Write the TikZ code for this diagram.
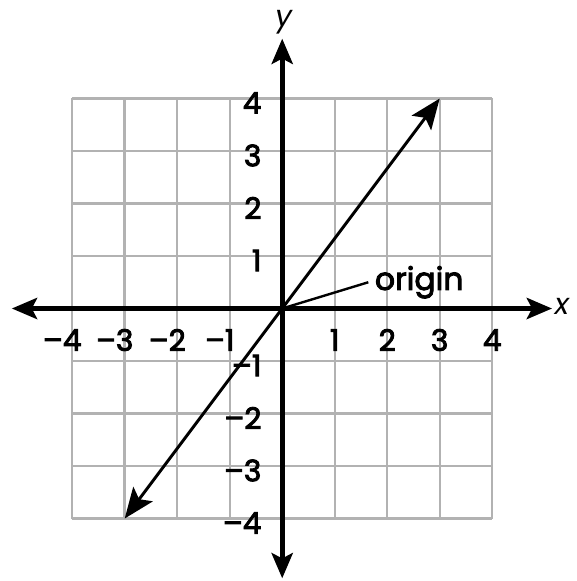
\documentclass[tikz,border=0pt]{standalone}
\usepackage{fontspec}
\setmainfont{Poppins}
\newfontfamily\labelfont[FakeBold=3]{Poppins}
\usetikzlibrary{arrows.meta}
\tikzset{
  gridline/.style={draw=black!30,line width=1.3pt},
  axisline/.style={draw=black,line width=2.7pt,
    {Stealth[length=0.48cm,width=0.4cm,inset=0.1cm]}-{Stealth[length=0.48cm,width=0.4cm,inset=0.1cm]}},
  dataline/.style={draw=black,line width=1.6pt,
    {Stealth[length=0.58cm,width=0.46cm,inset=0.12cm]}-{Stealth[length=0.58cm,width=0.46cm,inset=0.12cm]}},
  ticklabel/.style={font=\labelfont\fontsize{16}{18}\selectfont,inner sep=0pt},
  axislabel/.style={font=\fontsize{16}{18}\selectfont\itshape,inner sep=0pt},
  notelabel/.style={font=\labelfont\fontsize{17}{20}\selectfont,anchor=west,inner sep=0.12cm},
  pointer/.style={draw=black,line width=1.3pt},
}

\begin{document}
\begin{tikzpicture}
  \useasboundingbox (-5.375,-5.19) rectangle (5.596,5.876);
  \draw[gridline] (-4,-4) grid (4,4);
  \coordinate (O)  at (0,0);
  \coordinate (xl) at (-5.15,0);
  \coordinate (xr) at (5.14,0);
  \coordinate (yb) at (0,-5.14);
  \coordinate (yt) at (0,5.14);
  \coordinate (lo) at (-3,-4);
  \coordinate (hi) at (3,4);
  \draw[axisline] (xl) -- (xr);
  \draw[axisline] (yb) -- (yt);
  \draw[dataline] (lo) -- (hi);
  \node[axislabel] (xlab) at (5.33,0.04) {x};
  \node[axislabel] (ylab) at (0.03,5.45) {y};
  \foreach \n in {1,2,3,4} {
    \node[ticklabel] (xp\n) at (\n,-0.6) {\n};
    \node[ticklabel] (xn\n) at (-\n,-0.6) {\llap{–}\n};
    \node[ticklabel,anchor=east] (yp\n) at (-0.39,\n-0.085) {\n};
    \node[ticklabel,anchor=east] (yn\n) at (-0.39,-\n-0.085) {–\n};
  }
  \node[notelabel] (orig) at (1.64,0.5) {origin};
  \draw[pointer] (O) -- (orig.west);
\end{tikzpicture}
\end{document}
